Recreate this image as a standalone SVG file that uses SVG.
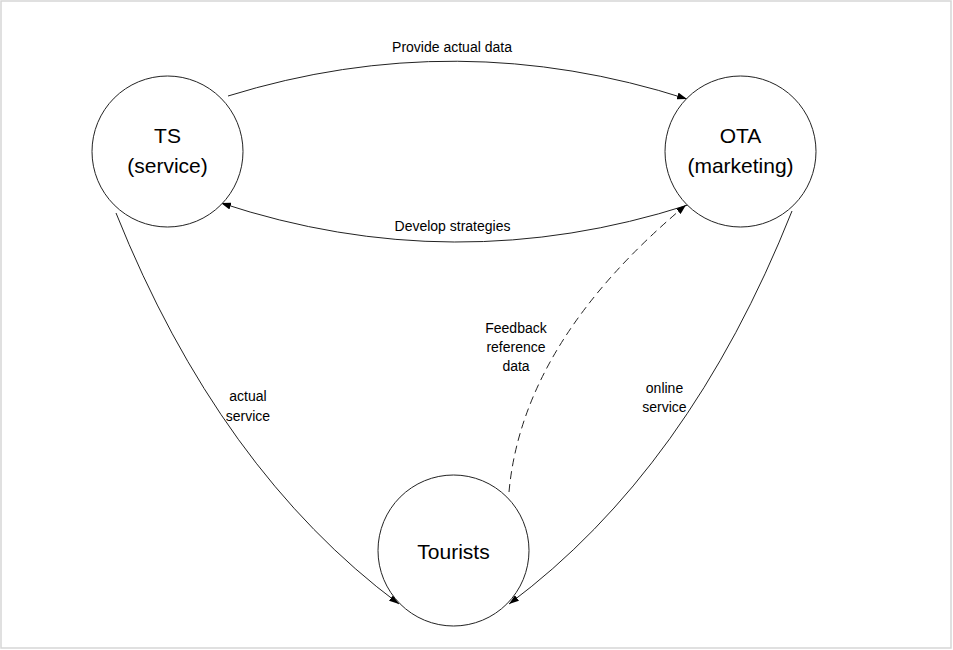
<svg xmlns="http://www.w3.org/2000/svg" width="953" height="650" viewBox="0 0 953 650">
  <style>
    .node circle { fill: #ffffff; stroke: #222222; stroke-width: 1; }
    .node text { font-family: "Liberation Sans", Arial, sans-serif; font-size: 21px; fill: #000000; text-anchor: middle; }
    .edge { fill: none; stroke: #222222; stroke-width: 1; }
    .dashed { stroke-dasharray: 8 5; }
    .label { font-family: "Liberation Sans", Arial, sans-serif; font-size: 14px; fill: #000000; text-anchor: middle; }
  </style>
  <defs>
    <marker id="arrow" viewBox="0 0 10 7" refX="10" refY="3.5" markerWidth="10" markerHeight="7" markerUnits="userSpaceOnUse" orient="auto">
      <path d="M0,0 L10,3.5 L0,7 z" fill="#000000"/>
    </marker>
  </defs>
  <rect x="1" y="1" width="950" height="647" fill="#ffffff" stroke="#d6d6d6" stroke-width="1.5"/>

  <g id="connectors">
    <path class="edge" d="M228,96 Q457,25 687,99" marker-end="url(#arrow)"/>
    <path class="edge" d="M688,205 Q454,280 221,203" marker-end="url(#arrow)"/>
    <path class="edge dashed" d="M509,492 Q522.5,341.5 686,205" marker-end="url(#arrow)"/>
    <path class="edge" d="M116,213 Q219,470 399,604" marker-end="url(#arrow)"/>
    <path class="edge" d="M792,211 Q689,470 509,604" marker-end="url(#arrow)"/>
    <text class="label" x="452" y="52">Provide actual data</text>
    <text class="label" x="452.5" y="231">Develop strategies</text>
    <text class="label" x="516" y="333">Feedback</text>
    <text class="label" x="516" y="352">reference</text>
    <text class="label" x="516" y="371">data</text>
    <text class="label" x="664.5" y="393">online</text>
    <text class="label" x="664.5" y="412">service</text>
    <text class="label" x="248" y="401">actual</text>
    <text class="label" x="248" y="421">service</text>
  </g>

  <g id="node-ts" class="node">
    <circle cx="167.5" cy="151.5" r="75.5"/>
    <text x="167.5" y="143">TS</text>
    <text x="167.5" y="173">(service)</text>
  </g>
  <g id="node-ota" class="node">
    <circle cx="740.5" cy="151.5" r="75.5"/>
    <text x="740.5" y="143">OTA</text>
    <text x="740.5" y="173">(marketing)</text>
  </g>
  <g id="node-tourists" class="node">
    <circle cx="453.5" cy="550.5" r="75.5"/>
    <text x="453.5" y="559">Tourists</text>
  </g>
</svg>
